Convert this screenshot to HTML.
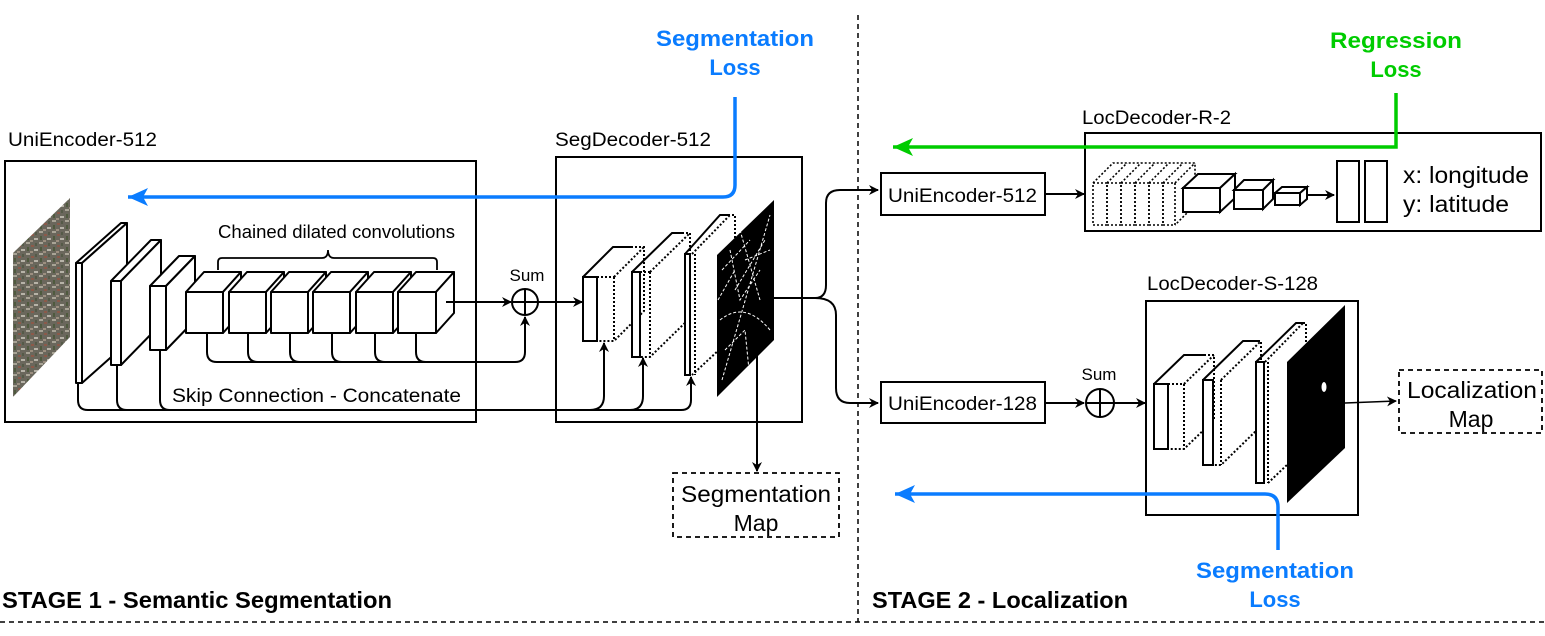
<!DOCTYPE html>
<html><head><meta charset="utf-8"><style>
html,body{margin:0;padding:0;background:#fff}
svg{display:block}
text{font-family:"Liberation Sans",sans-serif}
</style></head><body>
<svg width="1545" height="636" viewBox="0 0 1545 636" xmlns="http://www.w3.org/2000/svg">
<defs>
<marker id="ab" markerWidth="10" markerHeight="10" refX="9" refY="5" orient="auto" markerUnits="userSpaceOnUse"><path d="M0,0 L10,5 L0,10 L3,5 z" fill="#000"/></marker>
<marker id="abl" markerWidth="22" markerHeight="18" refX="20" refY="9" orient="auto" markerUnits="userSpaceOnUse"><path d="M0,0 L20,9 L0,18 L5,9 z" fill="#0a7cff"/></marker>
<marker id="agr" markerWidth="22" markerHeight="18" refX="20" refY="9" orient="auto" markerUnits="userSpaceOnUse"><path d="M0,0 L20,9 L0,18 L5,9 z" fill="#00cc00"/></marker>
<pattern id="aer" width="13" height="11" patternUnits="userSpaceOnUse">
<rect width="13" height="11" fill="#6a675c"/><rect x="0" y="0" width="4" height="2" fill="#a9a496"/><rect x="5" y="3" width="3" height="2" fill="#8b5a4a"/><rect x="1" y="5" width="2" height="4" fill="#4f5a3e"/><rect x="8" y="7" width="4" height="2" fill="#b7b3a8"/><rect x="9" y="1" width="2" height="3" fill="#555a48"/><rect x="4" y="9" width="3" height="2" fill="#9c8f80"/>
</pattern>
</defs>

<line x1="858" y1="15" x2="858" y2="622" stroke="#000" stroke-width="1.5" stroke-dasharray="5,4"/>
<line x1="0" y1="622" x2="1545" y2="622" stroke="#000" stroke-width="1.5" stroke-dasharray="5,4"/>
<text x="2" y="608" font-size="23" font-weight="bold" textLength="390" lengthAdjust="spacingAndGlyphs">STAGE 1 - Semantic Segmentation</text>
<text x="872" y="608" font-size="23" font-weight="bold" textLength="256" lengthAdjust="spacingAndGlyphs">STAGE 2 - Localization</text>

<text x="8" y="146" font-size="19" textLength="149" lengthAdjust="spacingAndGlyphs">UniEncoder-512</text>
<rect x="5" y="161" width="471" height="261" fill="none" stroke="#000" stroke-width="2"/>
<polygon points="13,253 70,198 70,337 13,397" fill="url(#aer)"/>

<g fill="#fff" stroke="#000" stroke-width="2" stroke-linejoin="round">
<polygon points="76,263 121,223 127,223 82,263"/><polygon points="82,263 127,223 127,343 82,383"/><rect x="76" y="263" width="6" height="120"/>
<polygon points="111,281 151,240 161,240 121,281"/><polygon points="121,281 161,240 161,324 121,365"/><rect x="111" y="281" width="10" height="84"/>
<polygon points="150,286 179,256 195,256 166,286"/><polygon points="166,286 195,256 195,320 166,350"/><rect x="150" y="286" width="16" height="64"/>
<polygon points="186,292 204,272 241,272 223,292"/><polygon points="223,292 241,272 241,313 223,333"/><rect x="186" y="292" width="37" height="41"/>
<polygon points="229,292 247,272 284,272 266,292"/><polygon points="266,292 284,272 284,313 266,333"/><rect x="229" y="292" width="37" height="41"/>
<polygon points="271,292 289,272 326,272 308,292"/><polygon points="308,292 326,272 326,313 308,333"/><rect x="271" y="292" width="37" height="41"/>
<polygon points="313,292 331,272 368,272 350,292"/><polygon points="350,292 368,272 368,313 350,333"/><rect x="313" y="292" width="37" height="41"/>
<polygon points="356,292 374,272 411,272 393,292"/><polygon points="393,292 411,272 411,313 393,333"/><rect x="356" y="292" width="37" height="41"/>
<polygon points="398,292 416,272 454,272 436,292"/><polygon points="436,292 454,272 454,313 436,333"/><rect x="398" y="292" width="38" height="41"/>
</g>
<path d="M218,270 L218,262 Q218,258 222,258 L322,258 Q328,258 328,250 Q328,258 334,258 L433,258 Q437,258 437,262 L437,270" fill="none" stroke="#000" stroke-width="1.8"/>
<text x="218" y="238" font-size="18" textLength="237" lengthAdjust="spacingAndGlyphs">Chained dilated convolutions</text>

<line x1="446" y1="302" x2="511" y2="302" stroke="#000" stroke-width="2" marker-end="url(#ab)"/>
<circle cx="525" cy="302" r="13" fill="#fff" stroke="#000" stroke-width="2"/>
<line x1="512" y1="302" x2="538" y2="302" stroke="#000" stroke-width="2"/><line x1="525" y1="289" x2="525" y2="315" stroke="#000" stroke-width="2"/>
<text x="527" y="281" font-size="17" text-anchor="middle">Sum</text>
<line x1="538" y1="302" x2="582" y2="302" stroke="#000" stroke-width="2" marker-end="url(#ab)"/>

<g fill="none" stroke="#000" stroke-width="2">
<path d="M207,333 L207,352 Q207,362 217,362 L515,362 Q525,362 525,352 L525,317" marker-end="url(#ab)"/>
<path d="M248,333 L248,352 Q248,362 258,362"/>
<path d="M290,333 L290,352 Q290,362 300,362"/>
<path d="M332,333 L332,352 Q332,362 342,362"/>
<path d="M375,333 L375,352 Q375,362 385,362"/>
<path d="M416,333 L416,352 Q416,362 426,362"/>
<path d="M78,383 L78,400 Q78,410 88,410 L681,410 Q691,410 691,400 L691,377" marker-end="url(#ab)"/>
<path d="M117,365 L117,400 Q117,410 127,410"/>
<path d="M160,350 L160,400 Q160,410 170,410"/>
<path d="M590,410 Q604,410 604,396 L604,343" marker-end="url(#ab)"/>
<path d="M630,410 Q643,410 643,396 L643,358" marker-end="url(#ab)"/>
</g>
<text x="172" y="402" font-size="19" textLength="289" lengthAdjust="spacingAndGlyphs">Skip Connection - Concatenate</text>

<text x="555" y="146" font-size="19" textLength="156" lengthAdjust="spacingAndGlyphs">SegDecoder-512</text>
<rect x="556" y="157" width="246" height="265" fill="none" stroke="#000" stroke-width="2"/>
<g fill="#fff" stroke="#000" stroke-width="2">
<path d="M583,277 L613,247 L631,247" fill="none"/>
<path d="M631,247 L644,247 L644,311 L614,341 L597,341 M614,277 L614,341 M614,277 L644,247 M597,277 L614,277" fill="none" stroke-dasharray="2,2"/>
<rect x="583" y="277" width="14" height="64"/>
<path d="M632,272 L672,233 L682,233" fill="none"/>
<path d="M682,233 L690,233 L690,318 L650,357 L640,357 M650,272 L650,357 M650,272 L690,233 M640,272 L650,272" fill="none" stroke-dasharray="2,2"/>
<rect x="632" y="272" width="8" height="85"/>
<path d="M685,254 L720,215 L728,215" fill="none"/>
<path d="M728,215 L735,215 L735,335 L692,375 M695,254 L695,375 M692,254 L730,215" fill="none" stroke-dasharray="2,2"/>
<rect x="685" y="254" width="5" height="121"/>
</g>
<polygon points="717,255 774,200 774,340 717,397" fill="#000"/>
<g stroke="#fff" stroke-width="1" fill="none" stroke-dasharray="3,2">
<path d="M722,380 L770,215"/><path d="M730,250 L740,300 L760,270"/><path d="M720,320 Q745,300 770,330"/><path d="M735,290 L765,240"/><path d="M725,350 L745,330 L750,380"/><path d="M740,230 L760,300"/><path d="M718,300 L735,270"/><path d="M745,260 L770,250"/><path d="M722,270 L750,240"/>
</g>
<g fill="none" stroke="#000" stroke-width="2">
<path d="M774,298 L815,298 Q826,298 826,285 L826,203 Q826,190 840,190 L878,190" marker-end="url(#ab)"/>
<path d="M815,298 Q836,298 836,315 L836,388 Q836,403 850,403 L878,403" marker-end="url(#ab)"/>
<line x1="757" y1="340" x2="757" y2="471" marker-end="url(#ab)"/>
</g>
<rect x="673" y="473" width="166" height="64" fill="#fff" stroke="#000" stroke-width="1.8" stroke-dasharray="5,4"/>
<text x="681" y="502" font-size="23" textLength="150" lengthAdjust="spacingAndGlyphs">Segmentation</text>
<text x="756" y="531" font-size="23" text-anchor="middle">Map</text>

<text x="656" y="46" font-size="22" font-weight="bold" fill="#0a7cff" textLength="158" lengthAdjust="spacingAndGlyphs">Segmentation</text>
<text x="735" y="75" font-size="22" font-weight="bold" fill="#0a7cff" text-anchor="middle">Loss</text>
<path d="M735,97 L735,185 Q735,197 723,197 L128,197" fill="none" stroke="#0a7cff" stroke-width="3.5" marker-end="url(#abl)"/>

<rect x="881" y="173" width="164" height="42" fill="#fff" stroke="#000" stroke-width="2"/>
<text x="888" y="202" font-size="19" textLength="149" lengthAdjust="spacingAndGlyphs">UniEncoder-512</text>
<line x1="1045" y1="194" x2="1084" y2="194" stroke="#000" stroke-width="2" marker-end="url(#ab)"/>
<text x="1082" y="124" font-size="19" textLength="149" lengthAdjust="spacingAndGlyphs">LocDecoder-R-2</text>
<rect x="1085" y="133" width="456" height="98" fill="none" stroke="#000" stroke-width="2"/>
<g fill="none" stroke="#000" stroke-width="1.6" stroke-dasharray="2,2">
<path d="M1093,183 L1113,163 L1195,163 L1195,205 L1175,225"/>
<rect x="1093" y="183" width="14" height="42"/><rect x="1107" y="183" width="14" height="42"/><rect x="1121" y="183" width="14" height="42"/><rect x="1135" y="183" width="14" height="42"/><rect x="1149" y="183" width="14" height="42"/><rect x="1163" y="183" width="12" height="42"/>
<path d="M1107,183 L1127,163 M1121,183 L1141,163 M1135,183 L1155,163 M1149,183 L1169,163 M1163,183 L1183,163 M1175,183 L1195,163"/>
</g>
<g fill="#fff" stroke="#000" stroke-width="2">
<polygon points="1183,188 1198,174 1235,174 1220,188"/><polygon points="1220,188 1235,174 1235,198 1220,212"/><rect x="1183" y="188" width="37" height="24"/>
<polygon points="1234,190 1244,180 1273,180 1263,190"/><polygon points="1263,190 1273,180 1273,199 1263,209"/><rect x="1234" y="190" width="29" height="19"/>
<polygon points="1275,193 1282,187 1307,187 1300,193"/><polygon points="1300,193 1307,187 1307,199 1300,205"/><rect x="1275" y="193" width="25" height="12"/>
</g>
<line x1="1307" y1="195" x2="1334" y2="195" stroke="#000" stroke-width="2" marker-end="url(#ab)"/>
<rect x="1337" y="161" width="22" height="61" fill="#fff" stroke="#000" stroke-width="2"/>
<rect x="1365" y="161" width="22" height="61" fill="#fff" stroke="#000" stroke-width="2"/>
<text x="1403" y="183" font-size="23" textLength="126" lengthAdjust="spacingAndGlyphs">x: longitude</text>
<text x="1403" y="212" font-size="23" textLength="106" lengthAdjust="spacingAndGlyphs">y: latitude</text>

<text x="1330" y="48" font-size="22" font-weight="bold" fill="#00cc00" textLength="132" lengthAdjust="spacingAndGlyphs">Regression</text>
<text x="1396" y="77" font-size="22" font-weight="bold" fill="#00cc00" text-anchor="middle">Loss</text>
<path d="M1396,93 L1396,147 L893,147" fill="none" stroke="#00cc00" stroke-width="3.5" marker-end="url(#agr)"/>

<rect x="881" y="382" width="164" height="41" fill="#fff" stroke="#000" stroke-width="2"/>
<text x="888" y="410" font-size="19" textLength="149" lengthAdjust="spacingAndGlyphs">UniEncoder-128</text>
<line x1="1045" y1="403" x2="1084" y2="403" stroke="#000" stroke-width="2" marker-end="url(#ab)"/>
<circle cx="1100" cy="403" r="14" fill="#fff" stroke="#000" stroke-width="2"/>
<line x1="1086" y1="403" x2="1114" y2="403" stroke="#000" stroke-width="2"/><line x1="1100" y1="389" x2="1100" y2="417" stroke="#000" stroke-width="2"/>
<text x="1099" y="380" font-size="17" text-anchor="middle">Sum</text>
<line x1="1114" y1="403" x2="1145" y2="403" stroke="#000" stroke-width="2" marker-end="url(#ab)"/>

<text x="1147" y="290" font-size="19" textLength="171" lengthAdjust="spacingAndGlyphs">LocDecoder-S-128</text>
<rect x="1146" y="301" width="212" height="214" fill="none" stroke="#000" stroke-width="2"/>
<g fill="#fff" stroke="#000" stroke-width="2">
<path d="M1154,384 L1184,355 L1204,355" fill="none"/>
<path d="M1204,355 L1214,355 L1214,420 L1184,449 L1168,449 M1184,384 L1184,449 M1184,384 L1214,355 M1168,384 L1184,384" fill="none" stroke-dasharray="2,2"/>
<rect x="1154" y="384" width="14" height="65"/>
<path d="M1203,380 L1243,341 L1258,341" fill="none"/>
<path d="M1258,341 L1261,341 L1261,426 L1221,465 L1213,465 M1221,380 L1221,465 M1221,380 L1261,341" fill="none" stroke-dasharray="2,2"/>
<rect x="1203" y="380" width="10" height="85"/>
<path d="M1256,362 L1296,323 L1303,323" fill="none"/>
<path d="M1303,323 L1306,323 L1306,343 M1268,362 L1268,483 M1265,362 L1303,323 M1268,483 L1290,462" fill="none" stroke-dasharray="2,2"/>
<rect x="1256" y="362" width="8" height="121"/>
</g>
<polygon points="1287,362 1345,305 1345,448 1287,503" fill="#000"/>
<ellipse cx="1324" cy="387" rx="2.5" ry="5" fill="#fff"/>
<line x1="1345" y1="403" x2="1396" y2="401" stroke="#000" stroke-width="1.5" marker-end="url(#ab)"/>
<rect x="1399" y="370" width="143" height="63" fill="#fff" stroke="#000" stroke-width="1.8" stroke-dasharray="5,4"/>
<text x="1407" y="398" font-size="23" textLength="130" lengthAdjust="spacingAndGlyphs">Localization</text>
<text x="1471" y="427" font-size="23" text-anchor="middle">Map</text>

<path d="M1278,550 L1278,507 Q1278,494 1265,494 L895,494" fill="none" stroke="#0a7cff" stroke-width="3.5" marker-end="url(#abl)"/>
<text x="1196" y="578" font-size="22" font-weight="bold" fill="#0a7cff" textLength="158" lengthAdjust="spacingAndGlyphs">Segmentation</text>
<text x="1275" y="607" font-size="22" font-weight="bold" fill="#0a7cff" text-anchor="middle">Loss</text>
</svg>
</body></html>
